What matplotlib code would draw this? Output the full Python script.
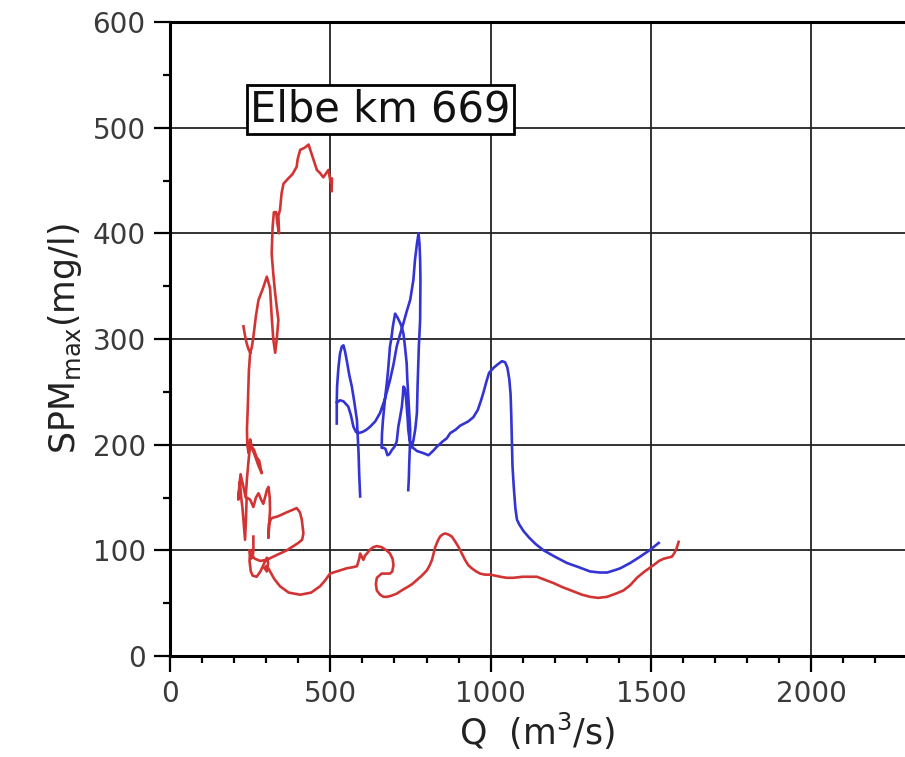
import numpy as np
import matplotlib
matplotlib.use("Agg")
import matplotlib.pyplot as plt
from matplotlib.ticker import MultipleLocator

plt.rcParams['font.family'] = ['DejaVu Sans']
plt.rcParams['mathtext.default'] = 'regular'

nan = np.nan

# Red hysteresis curve (Q in m3/s, SPM max in mg/l); NaN separates pieces
red_q = [504, 505, 501, 494, 487, 478, 468, 458, 445, 432, 420, 406, 398, 395, 382, 369, 354, 348, 343, 338,
         340, 335, 331, 324, 320, 317, 322, 328, 333, 338, 333, 328, 322, 317, 312, 302, 290, 276, 268, 260,
         255, 250, 246, 244, 242, 240, 241, 245, 250, 255, 262, 270, 278, 286, 276, 262, 250, 245, 240, 236,
         229, 220, 216, 213, 218, 222, 226, 230, 234, 237, 239, 250, 260, 268, 276, 284, 291, 298, 302, 307,
         311, 312, 309, 307, 309, 315, 322, 335, 350, 364, 380, 395, 405, 411, 416, 412, 400, 385, 364, 343,
         322, 302, 281, 265, 255, 250, 248, 252, 258, 270, 282, 294, 302, 306, 302, 295, 300, 307, 312, 325,
         343, 370, 406, 440, 468, 485, 499, 520, 551, 570, 583, 590, 593, 598, 603, 608, 614, 625, 634, 645,
         660, 675, 686, 694, 697, 693, 686, 676, 660, 645, 642, 645, 655, 666, 676, 690, 707, 722, 739, 755,
         770, 785, 801, 810, 817, 822, 827, 835, 842, 850, 858, 868, 879, 890, 900, 910, 920, 930, 941, 955,
         967, 982, 998, 1015, 1030, 1050, 1071, 1100, 1125, 1144, 1170, 1196, 1225, 1259, 1285, 1310, 1335, 1363, 1390, 1414,
         1435, 1456, 1480, 1508, 1525, 1539, 1552, 1565, 1572, 1580, 1586,
         nan, 229, 234, 239, 244, 250,
         nan, 260, 260, 258, 252, 248]
red_spm = [440, 452, 448, 460, 457, 453, 457, 460, 472, 484, 481, 479, 470, 463, 456, 452, 447, 438, 422, 417,
           400, 409, 420, 420, 406, 381, 362, 343, 330, 318, 300, 287, 300, 322, 348, 359, 348, 337, 322, 302,
           292, 287, 270, 250, 230, 215, 200, 192, 205, 198, 195, 188, 185, 173, 180, 192, 200, 185, 168, 150,
           160, 172, 160, 148, 165, 150, 140, 125, 110, 130, 150, 148, 141, 150, 154, 148, 144, 152, 157, 160,
           150, 138, 125, 112, 125, 130, 131, 132, 134, 136, 138, 140, 136, 129, 116, 110, 107, 104, 100, 97,
           94, 91, 90, 92, 95, 100, 90, 80, 76, 75, 80, 88, 93, 88, 80, 83, 85, 83, 80, 73,
           66, 60, 58, 60, 66, 72, 78, 80, 83, 84, 85, 92, 97, 94, 91, 95, 97, 101, 103, 104,
           103, 100, 97, 92, 86, 80, 78, 78, 78, 74, 68, 62, 58, 56, 56, 57, 59, 62, 65, 68,
           72, 76, 81, 86, 91, 97, 103, 109, 113, 115, 116, 115, 113, 108, 103, 97, 91, 86, 83, 80,
           78, 77, 77, 76, 75, 74, 74, 75, 75, 75, 72, 69, 65, 61, 58, 56, 55, 56, 59, 62,
           67, 74, 80, 86, 90, 92, 93, 94, 97, 102, 108,
           nan, 312, 303, 296, 291, 287,
           nan, 113, 100, 94, 92, 100]

# Blue hysteresis curve
blue_q = [520, 520, 521, 525, 530, 536, 541, 546, 551, 559, 567, 575, 583, 586, 588, 590, 593,
          nan, 521, 530, 541, 550, 556, 564, 572, 580, 588, 600, 612, 624, 640, 655, 670, 686, 697, 707,
          718, 728, 738, 749, 759, 764, 770, 775, 778, 780, 781, 780, 776, 772, 770, 765, 759, 754,
          770, 790, 806, 820, 832, 850, 863, 874, 890, 905, 930, 946, 960, 970, 978, 987, 995, 1010,
          1022, 1035, 1045, 1052, 1058, 1062, 1064, 1066, 1068, 1072, 1077, 1082, 1090, 1103, 1120, 1140, 1165, 1200,
          1238, 1275, 1310, 1340, 1363, 1385, 1404, 1435, 1466, 1495, 1524,
          nan, 743, 745, 746, 748, 749, 746, 743, 740, 738, 733, 728, 722, 718, 710, 702, 695, 690, 686,
          680, 676, 671, 666, 664, 661, 660, 666, 672, 678, 684, 692, 700, 707, 712, 718, 723, 726, 728,
          731, 733, 736, 738, 741, 743, 747, 751, 754]
blue_spm = [220, 240, 255, 272, 286, 293, 294, 288, 280, 266, 255, 240, 223, 205, 192, 172, 151,
            nan, 240, 242, 241, 238, 236, 228, 217, 212, 211, 212, 214, 217, 222, 230, 243, 261, 276, 293,
            305, 315, 326, 337, 356, 375, 390, 400, 390, 375, 356, 318, 293, 255, 230, 215, 204, 198,
            194, 192, 190, 194, 198, 203, 206, 211, 214, 218, 222, 226, 233, 242, 250, 260, 268, 273,
            276, 279, 278, 273, 262, 248, 230, 204, 180, 160, 140, 129, 124, 118, 112, 106, 100, 94,
            88, 84, 80, 79, 79, 81, 83, 88, 94, 100, 107,
            nan, 157, 170, 182, 198, 214, 230, 245, 262, 277, 292, 305, 312, 315, 320, 324, 312, 300, 293,
            270, 258, 245, 230, 223, 210, 197, 197, 196, 190, 191, 195, 198, 203, 217, 227, 236, 246, 255,
            254, 252, 244, 236, 225, 214, 205, 200, 198]

station_label = "Elbe km 669"
x_label = "Q  (m$^3$/s)"
y_label = "SPM$_{max}$(mg/l)"
x_max = 2292
y_max = 600

fig = plt.figure(figsize=(9.05, 7.57), dpi=100)
ax = fig.add_axes([170/905, 1-656/757, 735/905, 634/757])

ax.plot(red_q, red_spm, color='#d23434', lw=1.9, solid_joinstyle='round', zorder=3)
ax.plot(blue_q, blue_spm, color='#3434d4', lw=1.9, solid_joinstyle='round', zorder=3)

ax.set_xlim(0, x_max)
ax.set_ylim(0, y_max)
ax.xaxis.set_major_locator(MultipleLocator(500))
ax.xaxis.set_minor_locator(MultipleLocator(100))
ax.yaxis.set_major_locator(MultipleLocator(100))
ax.yaxis.set_minor_locator(MultipleLocator(50))
ax.grid(True, which='major', color='#222222', lw=1.3, zorder=1)

for s in ['left', 'bottom', 'top']:
    ax.spines[s].set_linewidth(2.2)
    ax.spines[s].set_color('black')
ax.spines['right'].set_visible(False)

ax.tick_params(which='major', direction='out', length=11.5, width=1.6, color='black',
               labelsize=20, labelcolor='#3a3a3a', pad=6)
ax.tick_params(which='minor', direction='out', length=5, width=1.6, color='black')

ax.set_xlabel(x_label, fontsize=25, color='#222222', labelpad=2)
ax.set_ylabel(y_label, fontsize=25, color='#222222', labelpad=6)

ax.text(655, 517, station_label, fontsize=30, color='#111111', ha='center', va='center', zorder=5,
        bbox=dict(boxstyle='square,pad=0.08', facecolor='white', edgecolor='black', lw=2))

fig.savefig('out.png', dpi=100)
